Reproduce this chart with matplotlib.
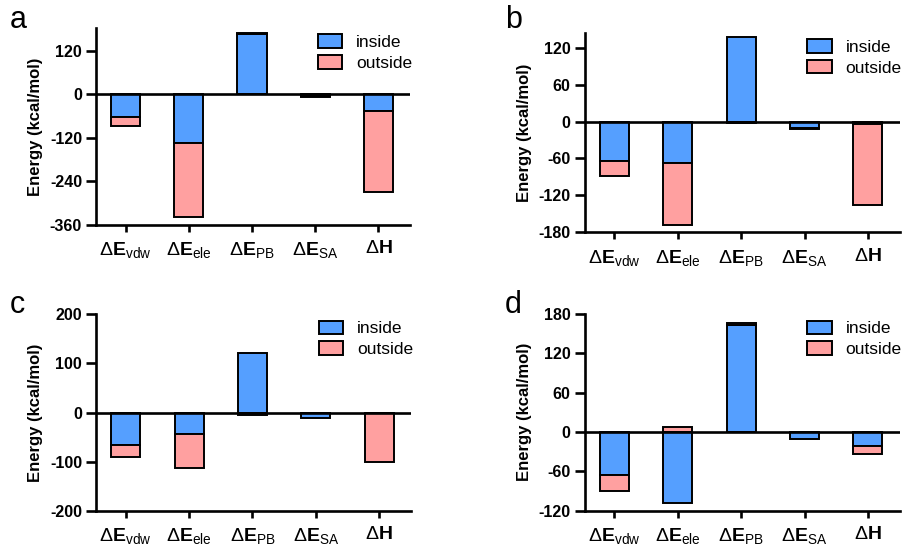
import matplotlib
matplotlib.use("Agg")
import matplotlib.pyplot as plt
from matplotlib.patches import Patch

categories = [r"$\Delta\mathbf{E}_{\mathrm{vdw}}$", r"$\Delta\mathbf{E}_{\mathrm{ele}}$",
              r"$\Delta\mathbf{E}_{\mathrm{PB}}$", r"$\Delta\mathbf{E}_{\mathrm{SA}}$",
              r"$\Delta\mathbf{H}$"]

a_inside = [-63, -133, 166, -6, -46]
a_outside = [-24, -204, 2, -2, -224]
b_inside = [-65, -68, 138, -11, -4]
b_outside = [-23, -100, -3, -1, -132]
c_inside = [-65, -43, 120, -10, 0]
c_outside = [-25, -70, -5, 0, -100]
d_inside = [-66, -109, 164, -11, -21]
d_outside = [-24, 7, 3, 0, -13]

BLUE = "#559FFF"
PINK = "#FFA0A0"

plt.rcParams.update({
    "font.family": ["Liberation Sans", "DejaVu Sans"],
    "mathtext.fontset": "custom",
    "mathtext.rm": "Liberation Sans",
    "mathtext.bf": "Liberation Sans:bold",
    "mathtext.it": "Liberation Sans:italic",
    "axes.unicode_minus": False,
})


def draw_panel(ax, inside, outside, ylim, yticks):
    x = list(range(len(categories)))
    # outside sitzt auf inside, wenn gleiches Vorzeichen (gestapelt wie GraphPad)
    bottoms = [i if (i * o > 0) else 0 for i, o in zip(inside, outside)]
    ax.bar(x, inside, width=0.46, color=BLUE, edgecolor="black", linewidth=1.4, zorder=2)
    ax.bar(x, outside, width=0.46, bottom=bottoms, color=PINK, edgecolor="black",
           linewidth=1.4, zorder=2)
    ax.axhline(0, color="black", linewidth=1.9, zorder=3)
    ax.set_xlim(-0.47, 4.5)
    ax.set_ylim(*ylim)
    ax.set_yticks(yticks)
    ax.set_yticklabels([str(t) for t in yticks], fontweight="bold", fontsize=11.5)
    ax.set_xticks(x)
    ax.set_xticklabels(categories, fontsize=14)
    for s in ("top", "right"):
        ax.spines[s].set_visible(False)
    for s in ("left", "bottom"):
        ax.spines[s].set_linewidth(1.9)
    ax.tick_params(axis="y", length=7, width=1.9, pad=3)
    ax.tick_params(axis="x", length=5, width=1.9, pad=6)
    ax.set_ylabel("Energy (kcal/mol)", fontweight="bold", fontsize=12, labelpad=5)
    handles = [Patch(facecolor=BLUE, edgecolor="black", linewidth=1.4, label="inside"),
               Patch(facecolor=PINK, edgecolor="black", linewidth=1.4, label="outside")]
    ax.legend(handles=handles, loc="upper right", bbox_to_anchor=(1.04, 1.02),
              frameon=False, fontsize=12.5, handlelength=1.4, handleheight=0.85,
              labelspacing=0.25, handletextpad=0.8, borderaxespad=0.2)


fig = plt.figure(figsize=(9.05, 5.49), dpi=100)
ax_a = fig.add_axes([0.106, 0.590, 0.347, 0.359])
ax_b = fig.add_axes([0.646, 0.577, 0.348, 0.363])
ax_c = fig.add_axes([0.106, 0.069, 0.348, 0.359])
ax_d = fig.add_axes([0.646, 0.070, 0.348, 0.358])

draw_panel(ax_a, a_inside, a_outside, (-360, 182), [-360, -240, -120, 0, 120])
draw_panel(ax_b, b_inside, b_outside, (-180, 144), [-180, -120, -60, 0, 60, 120])
draw_panel(ax_c, c_inside, c_outside, (-200, 200), [-200, -100, 0, 100, 200])
draw_panel(ax_d, d_inside, d_outside, (-120, 180), [-120, -60, 0, 60, 120, 180])

for letter, (px, py) in zip("abcd", [(10, 28), (505, 28), (10, 313), (505, 313)]):
    fig.text(px / 905, 1 - py / 549, letter, fontsize=22)

fig.savefig("out.png", dpi=100)
